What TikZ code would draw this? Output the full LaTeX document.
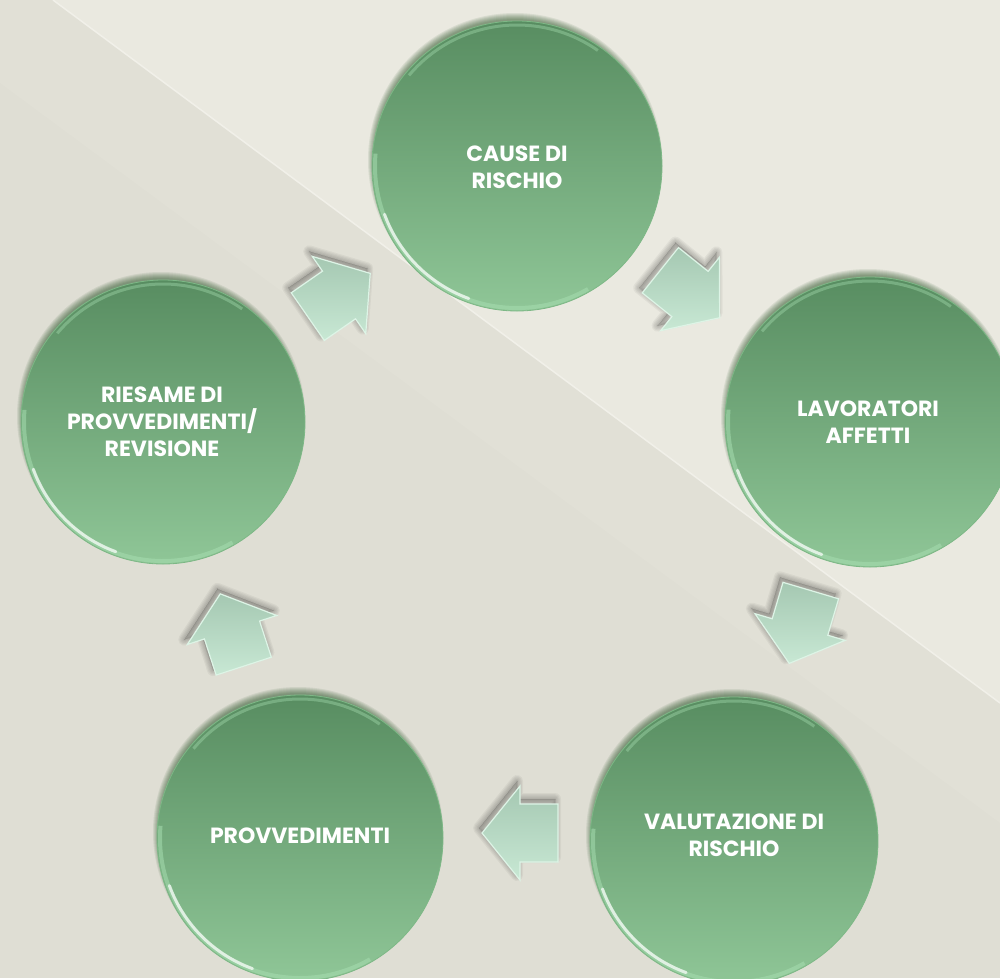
\documentclass[tikz,border=0pt]{standalone}
\usepackage{fontspec}
\newfontfamily\labelfont{Poppins}
\definecolor{bgUp}{HTML}{EAE9E0}
\definecolor{bgMid}{HTML}{E1E0D6}
\definecolor{bgLow}{HTML}{DFDED4}
\definecolor{bgLine}{HTML}{F1F0E9}
\definecolor{discTop}{HTML}{588D61}
\definecolor{discBot}{HTML}{8FC697}
\definecolor{discRim}{HTML}{7DB886}
\definecolor{discGlow}{HTML}{A6DDB0}
\definecolor{arrTop}{HTML}{A5C8B2}
\definecolor{arrBot}{HTML}{C8E8D4}
\definecolor{arrRim}{HTML}{DDF4E6}
\tikzset{
  disc/.style={circle, minimum size=#1, inner sep=0pt,
    top color=discTop, bottom color=discBot, draw=discRim, line width=0.8pt},
  discshadow/.style={fill=black!80!green, opacity=0.075},
  disclabel/.style={text=white, align=center, font=\labelfont\bfseries\fontsize{22}{27}\selectfont},
  gloss/.style={white, line width=3pt, opacity=0.7, line cap=round},
  arrowshadow/.style={draw=black, line join=round, opacity=0.045},
  blockarrow/.style={top color=arrTop, bottom color=arrBot, draw=arrRim, line width=1.2pt, line join=miter}
}
\newcommand\arrowpath{(-38,-29) -- (0,-29) -- (0,-47) -- (38,0) -- (0,47) -- (0,29) -- (-38,29) -- cycle}
\newcommand\bigarrow[2]{%
  \foreach \k in {0,1,...,5}{
    \begin{scope}[shift={(#1)}, shift={(-3,5)}, rotate=#2]
      \path[arrowshadow, line width=2.4*\k] \arrowpath;
    \end{scope}}
  \begin{scope}[shift={(#1)}, shift={(-3,5)}, rotate=#2]
    \fill[black, opacity=0.12] \arrowpath;
  \end{scope}
  \begin{scope}[shift={(#1)}, rotate=#2]
    \path[blockarrow] \arrowpath;
  \end{scope}}
\begin{document}
\begin{tikzpicture}[x=1pt,y=1pt]
\useasboundingbox (0,0) rectangle (1000,-978);
\clip (0,0) rectangle (1000,-978);
% background
\fill[bgLow] (0,0) rectangle (1000,-978);
\fill[bgMid] (0,0) -- (53,0) -- (1000,-703) -- (1000,-823) -- (0,-83) -- cycle;
\fill[bgUp] (53,0) -- (1000,0) -- (1000,-703) -- cycle;
\draw[bgLine, line width=1.5pt] (53,0) -- (1000,-703);

% soft shadows of the circles
\foreach \x/\y/\r in {517/-166/145, 870/-422/145, 734/-841/144, 300/-838/143, 163/-422/142}{
  \foreach \k in {0,1,...,6}{
    \fill[discshadow] (\x-2,\y+6) circle[radius=\r-4+\k];
  }
}

% circles
\node[disc=290pt] (cause) at (517,-166) {};
\node[disc=290pt] (lav)   at (870,-422) {};
\node[disc=288pt] (val)   at (734,-841) {};
\node[disc=286pt] (prov)  at (300,-838) {};
\node[disc=284pt] (ries)  at (163,-422) {};

% glossy rims
\foreach \n/\r in {cause/145, lav/145, val/144, prov/143, ries/142}{
  \draw[discGlow, line width=4pt, opacity=0.55] (\n.center) ++(175:\r-3) arc[start angle=175, end angle=300, radius=\r-3];
  \draw[gloss] (\n.center) ++(200:\r-4) arc[start angle=200, end angle=250, radius=\r-4];
  \draw[discGlow, line width=3pt, opacity=0.4] (\n.center) ++(55:\r-4) arc[start angle=55, end angle=140, radius=\r-4];
}

% labels
\node[disclabel] (tcause) at (517,-167) {CAUSE DI\\RISCHIO};
\node[disclabel] (tlav)   at (868,-422) {LAVORATORI\\AFFETTI};
\node[disclabel] (tval)   at (734,-835) {VALUTAZIONE DI\\RISCHIO};
\node[disclabel] (tprov)  at (300,-836) {PROVVEDIMENTI};
\node[disclabel] (tries)  at (162,-422) {RIESAME DI\\PROVVEDIMENTI/\\REVISIONE};

% block arrows
\bigarrow{339,-295}{34.7}
\bigarrow{690,-294}{-38.7}
\bigarrow{800,-627}{-106.5}
\bigarrow{520,-833}{180}
\bigarrow{232,-630}{108}
\end{tikzpicture}
\end{document}
